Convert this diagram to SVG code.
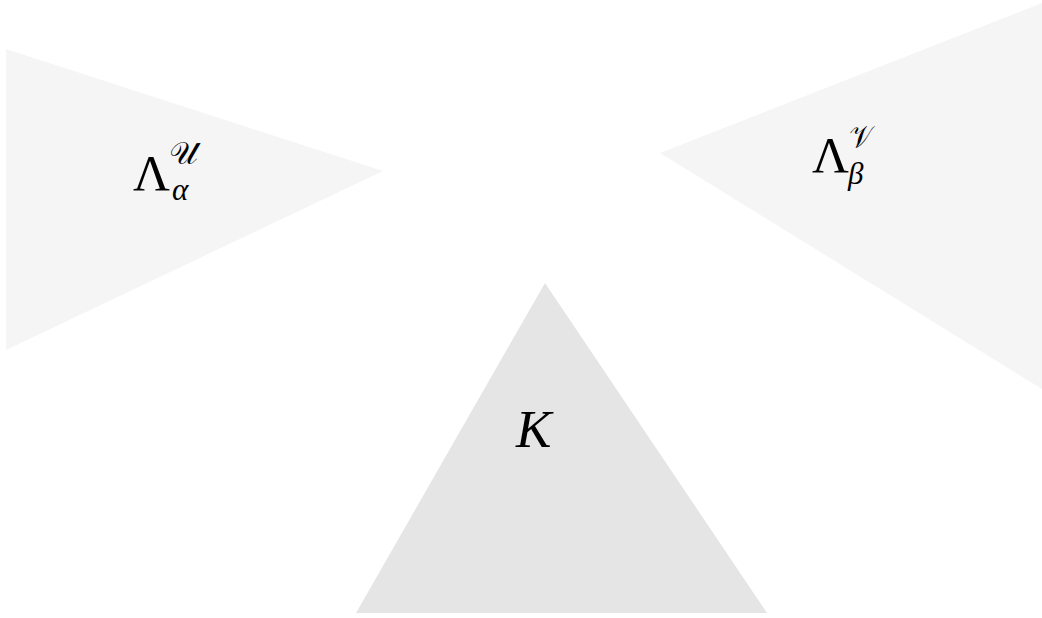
<svg xmlns="http://www.w3.org/2000/svg" width="1042" height="618" viewBox="0 0 1042 618">
<style>
.light{fill:#f5f5f5}
.dark{fill:#e5e5e5}
.m{font-family:"Liberation Serif","DejaVu Serif",serif;fill:#000}
.mi{font-family:"Liberation Serif","DejaVu Serif",serif;font-style:italic;fill:#000}
.scr{font-family:"DejaVu Sans","Noto Sans Math","Liberation Serif",serif;fill:#000}
</style>
<rect width="1042" height="618" fill="#fff"/>
<g id="node-lambda-alpha">
<polygon class="light" points="6,49 383,171 6,350"/>
<text class="m" x="133" y="190" font-size="51">Λ</text>
<text class="scr" x="170" y="164" font-size="30">𝒰</text>
<text class="mi" x="172" y="200" font-size="31">α</text>
</g>
<g id="node-lambda-beta">
<polygon class="light" points="1042,3 660,153 1042,389"/>
<text class="m" x="812" y="172" font-size="51">Λ</text>
<text class="scr" x="850" y="148" font-size="30">𝒱</text>
<text class="mi" x="848" y="184" font-size="31">β</text>
</g>
<g id="node-k">
<polygon class="dark" points="545,283 767,613 356,613"/>
<text class="mi" x="516" y="447" font-size="53">K</text>
</g>
<g id="connectors"></g>
</svg>
